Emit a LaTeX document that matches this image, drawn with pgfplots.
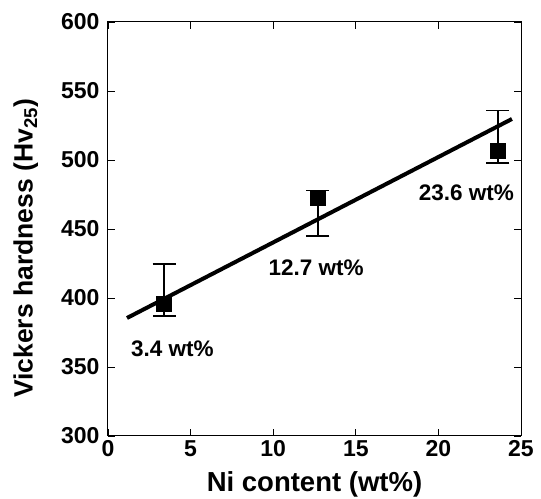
\documentclass[border=0pt]{standalone}
\usepackage{fontspec}
\setmainfont{Liberation Sans}
\usepackage{pgfplots}
\pgfplotsset{compat=1.18}
\begin{document}
\begin{tikzpicture}
\begin{axis}[
  name=ax,
  scale only axis,
  width=413pt, height=414pt,
  xmin=0, xmax=25, ymin=300, ymax=600,
  xtick={0,5,...,25}, ytick={300,350,...,600},
  tick align=inside,
  major tick length=7pt,
  tick style={black, line width=0.8pt},
  axis line style={black, line width=1pt},
  /pgf/number format/assume math mode=true,
  tick label style={font=\fontsize{23}{25}\selectfont\bfseries},
  yticklabel style={xshift=-5pt},
  xticklabel style={yshift=-1pt},
  xlabel={Ni content (wt\%)},
  ylabel={Vickers hardness (Hv\textsubscript{25})},
  xlabel style={font=\fontsize{27.5}{30}\selectfont\bfseries, at={(rel axis cs:0.5,-0.117)}, anchor=center},
  ylabel style={font=\fontsize{26.5}{30}\selectfont\bfseries, at={(rel axis cs:-0.199,0.453)}, anchor=center},
  clip=false,
]
\addplot[black, line width=4pt, no marks] coordinates {(1.15,385.5) (24.45,529.7)};
\addplot[only marks, mark=square*, mark size=7.5pt, black,
  error bars/.cd, y dir=both, y explicit,
  error bar style={line width=1.5pt, black},
  error mark options={rotate=90, mark size=11.5pt, line width=1.5pt, black}]
  table[x=x, y=y, y error plus=ep, y error minus=em] {
  x y ep em
  3.4 396 28.6 9
  12.7 473 5 28
  23.6 507 29 9
  };
\node[font=\fontsize{22.5}{24}\selectfont\bfseries] at (axis cs:3.9,363) {3.4 wt\%};
\node[font=\fontsize{22.5}{24}\selectfont\bfseries] at (axis cs:12.6,421.7) {12.7 wt\%};
\node[font=\fontsize{22.5}{24}\selectfont\bfseries] at (axis cs:21.7,476) {23.6 wt\%};
\end{axis}
\pgfresetboundingbox
\path ([shift={(-108pt,-63pt)}]ax.south west) rectangle ([shift={(20pt,22pt)}]ax.north east);
\end{tikzpicture}
\end{document}
